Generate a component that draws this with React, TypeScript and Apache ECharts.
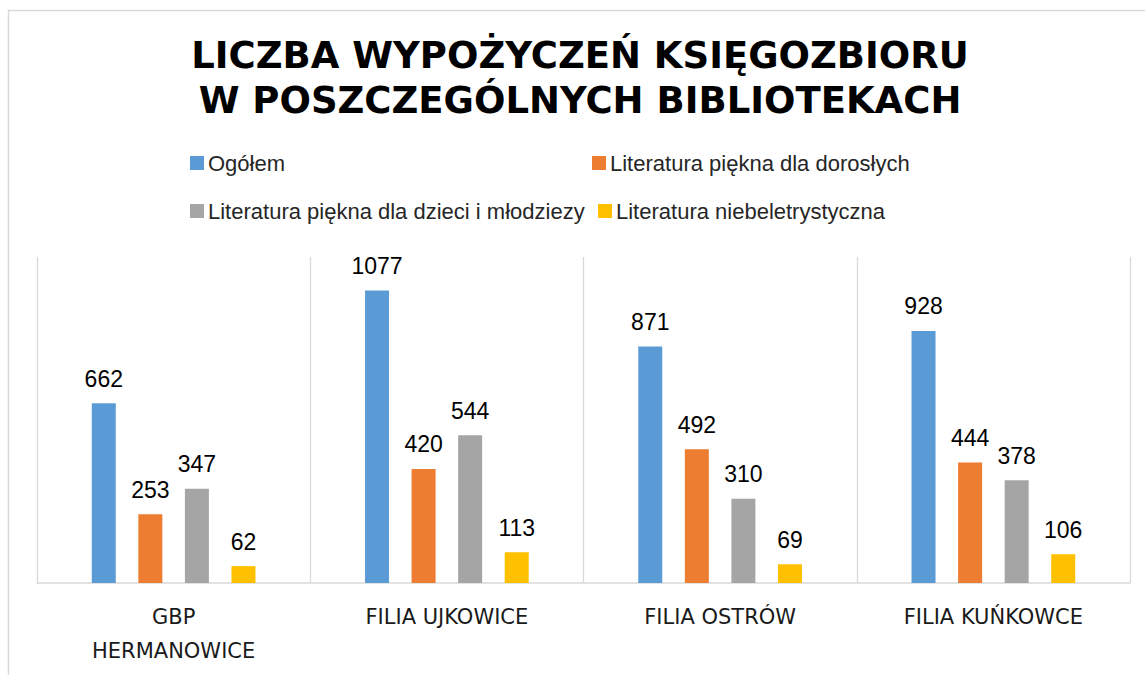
import React, { useEffect, useRef } from "react";
import * as echarts from "echarts";

const titleLines = ["LICZBA WYPOŻYCZEŃ KSIĘGOZBIORU", "W POSZCZEGÓLNYCH BIBLIOTEKACH"];
const categories = ["GBP\nHERMANOWICE", "FILIA UJKOWICE", "FILIA OSTRÓW", "FILIA KUŃKOWCE"];
const seriesNames = [
  "Ogółem",
  "Literatura piękna dla dorosłych",
  "Literatura piękna dla dzieci i młodziezy",
  "Literatura niebeletrystyczna",
];
const ogolem = [662, 1077, 871, 928];
const doroslych = [253, 420, 492, 444];
const dzieci = [347, 544, 310, 378];
const niebeletrystyczna = [62, 113, 69, 106];
const seriesValues = [ogolem, doroslych, dzieci, niebeletrystyczna];
const colors = ["#5B9BD5", "#ED7D31", "#A5A5A5", "#FFC000"];

const legendPos = [
  { left: 190, top: 152 },
  { left: 592, top: 152 },
  { left: 190, top: 200 },
  { left: 598, top: 200 },
];

export default function App() {
  const ref = useRef<HTMLDivElement>(null);
  useEffect(() => {
    if (!ref.current) return;
    const chart = echarts.init(ref.current, null, { renderer: "svg" });
    const option: any = {
      animation: false,
      backgroundColor: "#ffffff",
      color: colors,
      graphic: [
        {
          type: "rect",
          z: -1,
          shape: { x: 8.5, y: 10.5, width: 1200, height: 700 },
          style: { fill: "none", stroke: "#d9d9d9", lineWidth: 1.5 },
        },
        ...titleLines.map((t, i) => ({
          type: "text",
          x: 580,
          y: 55 + i * 45,
          style: {
            text: t,
            align: "center",
            verticalAlign: "middle",
            fontFamily: "DejaVu Sans",
            fontWeight: "bold",
            fontSize: 37,
            fill: "#000000",
          },
        })),
      ],
      legend: seriesNames.map((n, i) => ({
        data: [n],
        left: legendPos[i].left,
        top: legendPos[i].top,
        padding: 0,
        itemWidth: 14,
        itemHeight: 14,
        icon: "rect",
        selectedMode: false,
        textStyle: { fontFamily: "Liberation Sans", fontSize: 22, color: "#262626", padding: [0, 0, 0, -1] },
      })),
      grid: { left: 37, right: 15, top: 257, bottom: 92, containLabel: false },
      xAxis: {
        type: "category",
        data: categories,
        axisLine: { show: true, lineStyle: { color: "#d9d9d9", width: 1.5 } },
        axisTick: { show: false },
        splitLine: { show: true, lineStyle: { color: "#d9d9d9", width: 1.3 } },
        axisLabel: {
          interval: 0,
          margin: 17,
          lineHeight: 34,
          fontFamily: "DejaVu Sans",
          fontSize: 21,
          color: "#1a1a1a",
        },
      },
      yAxis: {
        type: "value",
        min: 0,
        max: 1200,
        show: false,
        splitLine: { show: false },
      },
      series: seriesNames.map((n, i) => ({
        name: n,
        type: "bar",
        data: seriesValues[i],
        barWidth: 24,
        barGap: "94%",
        itemStyle: { color: colors[i] },
        label: {
          show: true,
          position: "top",
          distance: 13,
          fontFamily: "Liberation Sans",
          fontSize: 23,
          color: "#000000",
        },
      })),
    };
    chart.setOption(option);
    return () => chart.dispose();
  }, []);
  return (
    <div
      ref={ref}
      style={{ position: "absolute", left: 0, top: 0, width: 1145, height: 675 }}
    />
  );
}
